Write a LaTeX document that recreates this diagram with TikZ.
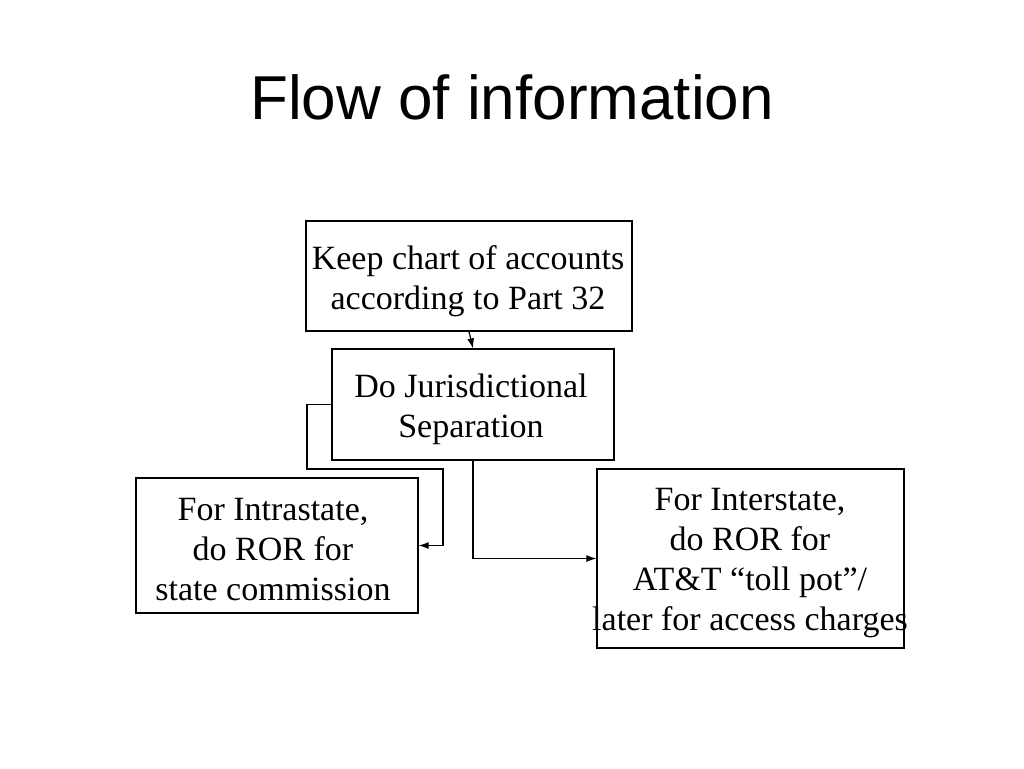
\documentclass[tikz,border=0pt]{standalone}
\usepackage{fontspec}
\setmainfont{Liberation Serif}
\newfontfamily\titlefont{Liberation Sans}
\usetikzlibrary{arrows.meta}
\begin{document}
\begin{tikzpicture}[x=1pt,y=-1pt,
  box/.style={draw,line width=1.2pt,inner sep=0pt,rectangle},
  txt/.style={inner sep=0pt,align=center,font=\fontsize{34}{40}\selectfont},
  conn/.style={line width=1.2pt,-{Latex[length=10pt,width=7pt]}}]
\useasboundingbox (0,0) rectangle (1024,768);
\node[inner sep=0pt,font=\titlefont\fontsize{62}{70}\selectfont] (title) at (512,97) {Flow of information};
\node[box,minimum width=326pt,minimum height=110pt] (keep) at (469,276) {};
\node[box,minimum width=282pt,minimum height=111pt] (sep) at (473,404.5) {};
\node[box,minimum width=282pt,minimum height=135pt] (intra) at (277,545.5) {};
\node[box,minimum width=307pt,minimum height=179pt] (inter) at (750.5,558.5) {};
\node[txt] (keept) at (468,281) {Keep chart of accounts\\according to Part 32};
\node[txt] (sept) at (471,409) {Do Jurisdictional\\Separation};
\node[txt] (intrat) at (273,550) {For Intrastate,\\do ROR for\\state commission};
\node[txt] (intert) at (750,563) {For Interstate,\\do ROR for\\AT\&T “toll pot”/\\later for access charges};
\draw[conn] (keep.south) -- (sep.north);
\coordinate (b1) at (307,404.5);
\coordinate (b2) at (307,469);
\coordinate (b3) at (443,469);
\draw[conn] (sep.west) -- (b1) -- (b2) -- (b3) -- (b3 |- intra.east) -- (intra.east);
\draw[conn] (sep.south) |- (inter.west);
\end{tikzpicture}
\end{document}
